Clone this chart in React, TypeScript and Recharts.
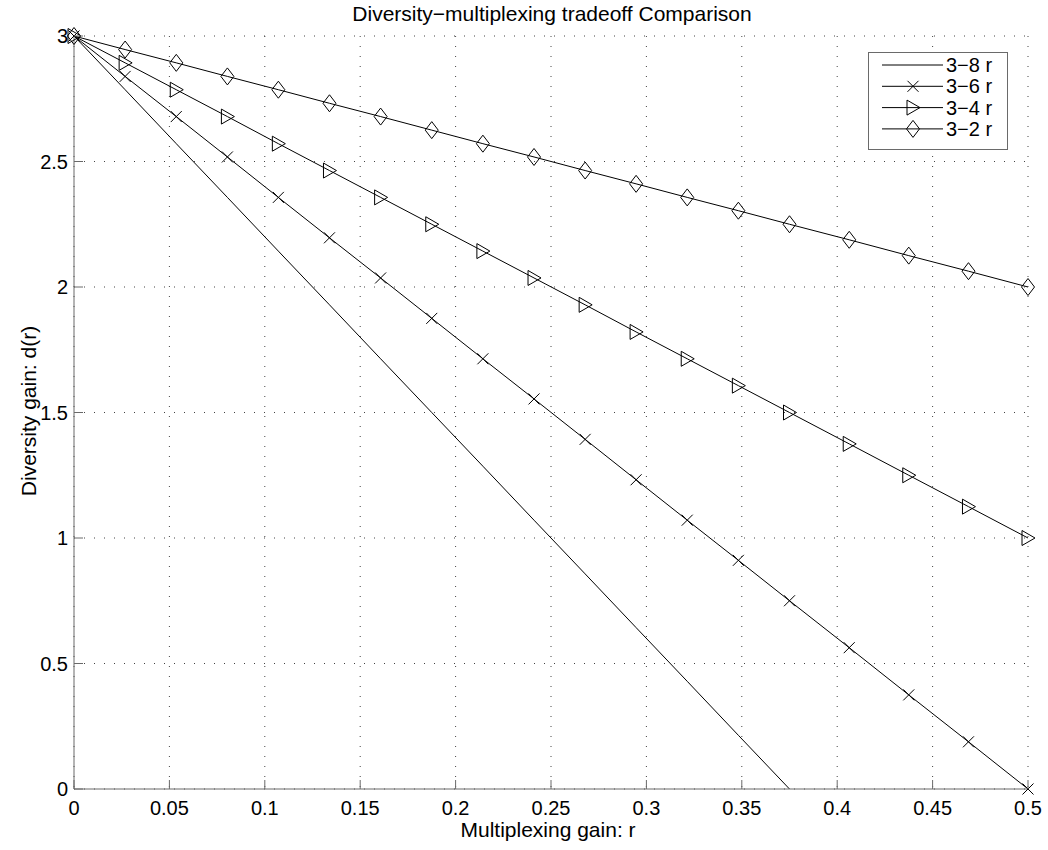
import { LineChart, Line, XAxis, YAxis, CartesianGrid, Legend } from "recharts";

// multiplexing gain r (sample points of the curves)
const R = [
  0, 0.0268, 0.0536, 0.0804, 0.1071, 0.1339, 0.1607, 0.1875, 0.2143, 0.2411,
  0.2679, 0.2946, 0.3214, 0.3482, 0.375, 0.4063, 0.4375, 0.4688, 0.5,
];
// diversity gain d(r) for each curve
const D_3_8 = [
  3, 2.786, 2.571, 2.357, 2.143, 1.929, 1.714, 1.5, 1.286, 1.071,
  0.857, 0.643, 0.429, 0.214, 0, null, null, null, null,
];
const D_3_6 = [
  3, 2.839, 2.679, 2.518, 2.357, 2.196, 2.036, 1.875, 1.714, 1.554,
  1.393, 1.232, 1.071, 0.911, 0.75, 0.563, 0.375, 0.188, 0,
];
const D_3_4 = [
  3, 2.893, 2.786, 2.679, 2.571, 2.464, 2.357, 2.25, 2.143, 2.036,
  1.929, 1.821, 1.714, 1.607, 1.5, 1.375, 1.25, 1.125, 1,
];
const D_3_2 = [
  3, 2.946, 2.893, 2.839, 2.786, 2.732, 2.679, 2.625, 2.571, 2.518,
  2.464, 2.411, 2.357, 2.304, 2.25, 2.188, 2.125, 2.063, 2,
];

const SERIES = [
  { key: "s8", name: "3\u22128 r", marker: "none" },
  { key: "s6", name: "3\u22126 r", marker: "x" },
  { key: "s4", name: "3\u22124 r", marker: "tri" },
  { key: "s2", name: "3\u22122 r", marker: "diamond" },
];

const X_TICKS = [0, 0.05, 0.1, 0.15, 0.2, 0.25, 0.3, 0.35, 0.4, 0.45, 0.5];
const Y_TICKS = [0, 0.5, 1, 1.5, 2, 2.5, 3];

const TITLE = "Diversity\u2212multiplexing tradeoff Comparison";
const X_LABEL = "Multiplexing gain: r";
const Y_LABEL = "Diversity gain: d(r)";

const FONT = "'Liberation Sans', Arial, Helvetica, sans-serif";
const AXIS = "#6a6a6a";

const chartData = R.map((r, i) => ({
  r,
  s8: D_3_8[i],
  s6: D_3_6[i],
  s4: D_3_4[i],
  s2: D_3_2[i],
}));

function Marker({ type, cx, cy }: { type: string; cx: number; cy: number }) {
  if (cx == null || cy == null) return null;
  if (type === "x") {
    return (
      <g stroke="#000" strokeWidth={1}>
        <line x1={cx - 5.5} y1={cy - 5.5} x2={cx + 5.5} y2={cy + 5.5} />
        <line x1={cx - 5.5} y1={cy + 5.5} x2={cx + 5.5} y2={cy - 5.5} />
      </g>
    );
  }
  if (type === "tri") {
    return (
      <path
        d={`M${cx - 6},${cy - 7.5} L${cx + 7},${cy} L${cx - 6},${cy + 7.5} Z`}
        fill="none"
        stroke="#000"
        strokeWidth={1}
      />
    );
  }
  if (type === "diamond") {
    return (
      <path
        d={`M${cx},${cy - 8.5} L${cx + 6.5},${cy} L${cx},${cy + 8.5} L${cx - 6.5},${cy} Z`}
        fill="none"
        stroke="#000"
        strokeWidth={1}
      />
    );
  }
  return null;
}

const BottomTick = ({ x, y, payload }: any) => (
  <g>
    <line x1={x} x2={x} y1={y} y2={y - 9} stroke={AXIS} />
    <text x={x} y={y + 19} textAnchor="middle" dominantBaseline="central" fontSize={20} fontFamily={FONT} fill="#000">
      {String(payload.value)}
    </text>
  </g>
);

const TopTick = ({ x, y }: any) => <line x1={x} x2={x} y1={y} y2={y + 9} stroke={AXIS} />;

const LeftTick = ({ x, y, payload }: any) => (
  <g>
    <line x1={x} x2={x + 9} y1={y} y2={y} stroke={AXIS} />
    <text x={x - 6} y={y} textAnchor="end" dominantBaseline="central" fontSize={20} fontFamily={FONT} fill="#000">
      {String(payload.value)}
    </text>
  </g>
);

const RightTick = ({ x, y }: any) => <line x1={x} x2={x - 9} y1={y} y2={y} stroke={AXIS} />;

function LegendBox() {
  return (
    <svg width={140} height={98} style={{ display: "block" }}>
      <rect x={0.5} y={0.5} width={139} height={97} fill="#fff" stroke={AXIS} />
      {SERIES.map((s, i) => {
        const y = 13 + i * 21.3;
        return (
          <g key={s.key}>
            <line x1={14} x2={75} y1={y} y2={y} stroke="#000" strokeWidth={1} />
            <Marker type={s.marker} cx={45} cy={y} />
            <text x={78} y={y} dominantBaseline="central" fontSize={20} fontFamily={FONT} fill="#000">
              {s.name}
            </text>
          </g>
        );
      })}
    </svg>
  );
}

export default function App() {
  return (
    <div style={{ position: "absolute", left: 0, top: 0, width: 1048, height: 850, background: "#fff" }}>
      <LineChart
        width={1048}
        height={850}
        data={chartData}
        margin={{ top: 36, right: 20, bottom: 0, left: 0 }}
      >
        <CartesianGrid stroke="#444" strokeDasharray="1 9" />
        <XAxis
          dataKey="r"
          type="number"
          domain={[0, 0.5]}
          ticks={X_TICKS}
          interval={0}
          height={61}
          tickSize={0}
          tickMargin={0}
          tickLine={false}
          axisLine={{ stroke: AXIS }}
          tick={<BottomTick />}
        />
        <XAxis
          xAxisId="top"
          orientation="top"
          dataKey="r"
          type="number"
          domain={[0, 0.5]}
          ticks={X_TICKS}
          interval={0}
          height={0}
          tickSize={0}
          tickMargin={0}
          tickLine={false}
          axisLine={{ stroke: AXIS }}
          tick={<TopTick />}
        />
        <YAxis
          type="number"
          domain={[0, 3]}
          ticks={Y_TICKS}
          interval={0}
          width={74}
          tickSize={0}
          tickMargin={0}
          tickLine={false}
          axisLine={{ stroke: AXIS }}
          tick={<LeftTick />}
        />
        <YAxis
          yAxisId="right"
          orientation="right"
          type="number"
          domain={[0, 3]}
          ticks={Y_TICKS}
          interval={0}
          width={0}
          tickSize={0}
          tickMargin={0}
          tickLine={false}
          axisLine={{ stroke: AXIS }}
          tick={<RightTick />}
        />
        {SERIES.map((s) => (
          <Line
            key={s.key}
            dataKey={s.key}
            name={s.name}
            type="linear"
            stroke="#000"
            strokeWidth={1}
            isAnimationActive={false}
            activeDot={false}
            dot={
              s.marker === "none"
                ? false
                : (p: any) => <Marker key={p.index} type={s.marker} cx={p.cx} cy={p.cy} />
            }
          />
        ))}
        <Legend
          layout="vertical"
          align="center"
          verticalAlign="middle"
          content={() => <LegendBox />}
          wrapperStyle={{ position: "absolute", left: 868, top: 52, width: 140, height: 98 }}
        />
        <text x={552} y={13} textAnchor="middle" dominantBaseline="central" fontSize={21} fontFamily={FONT} fill="#000">
          {TITLE}
        </text>
        <text x={548} y={829} textAnchor="middle" dominantBaseline="central" fontSize={21} fontFamily={FONT} fill="#000">
          {X_LABEL}
        </text>
        <text
          x={28}
          y={411}
          textAnchor="middle"
          dominantBaseline="central"
          fontSize={21}
          fontFamily={FONT}
          fill="#000"
          transform="rotate(-90 28 411)"
        >
          {Y_LABEL}
        </text>
      </LineChart>
    </div>
  );
}
